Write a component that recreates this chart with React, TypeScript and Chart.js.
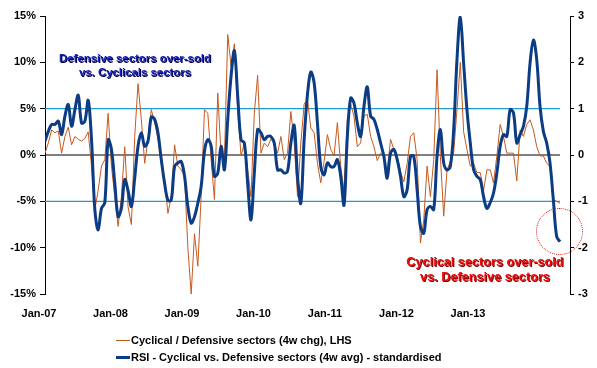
import React, { useEffect, useRef } from 'react';
import { Chart, registerables } from 'chart.js';

Chart.register(...registerables);

// ---- data ----
const START_YEAR = 2007;
const PERIOD_YEARS = 0.04647; // sampling period of the series (~17 days)
const X_MAX = 2014.343;
const YEAR_TICKS = [2007, 2008, 2009, 2010, 2011, 2012, 2013];

// Cyclical / Defensive sectors (4w chg), LHS, in %
const CYC_DEF_4W_CHG = [
  0.2, 1.3, 2.7, 2.4, 2.6, 0.2, 2.0, 3.0, 1.1, 2.0,
  1.7, 1.5, 1.8, 2.5, -1.2, -5.9, -3.8, -1.2, -0.5, 4.5,
  -1.2, -4.5, -7.7, -4.5, 0.9, -5.6, -7.5, 2.0, 7.7, 3.8,
  -0.9, 1.7, 4.9, 3.5, 1.7, -0.9, -2.7, -6.3, -4.5, 1.1,
  -1.2, -1.6, -2.3, -10, -15, -8.5, -12, -4.5, 4.9, 4.5,
  -0.5, -4.8, 6.7, -0.1, -0.5, 13, 9.6, 12, 4.9, -0.1,
  1.3, -1.6, -4.5, 4.5, 8.6, 0.2, 1.3, 0.9, 1.7, 1.3,
  0.2, 2.0, -0.5, 0.2, 4.7, 1.3, -4.5, 1.3, 5.5, 6.0,
  2.9, 2.4, -0.9, -3.0, -0.7, 2.2, 0.6, -0.1, 3.5, -1.2,
  -3.8, 3.8, 5.5, 4.2, 0.9, 1.3, 4.2, 4.4, 2.0, 0.9,
  -0.6, 0.2, -0.1, -1.9, 1.7, 0.6, -0.1, -1.8, -2.9, -0.9,
  2.0, 2.4, -0.5, -9.5, -7.0, -1.2, -4.5, -0.5, 9.2, -0.1,
  -6.6, -1.6, -0.7, 0.2, 4.9, 10.0, 2.5, 0.6, -1.2, -0.9,
  -1.9, -1.9, -3.8, -1.6, -1.6, -3.0, -0.1, 3.3, 2.0, 0.2,
  0.2, 0.2, -2.8, 2.7, 2.0, 3.3, 3.8, 2.7, 0.9, -0.1,
  -0.1, -0.9, -1.2, -4.8, -5.0, -5.2,
];

// RSI - Cyclical vs. Defensive sectors (4w avg) - standardised, RHS
const RSI_STD = [
  0.30, 0.51, 0.66, 0.66, 0.73, 0.44, 0.84, 1.09, 0.62, 0.98,
  1.29, 0.69, 0.73, 1.18, 0.33, -1.18, -1.62, -1.15, -1.03, 0.33,
  0.12, -0.61, -1.33, -1.15, -0.53, -0.77, -1.11, -0.50, 0.19, 0.48,
  0.19, 0.30, 0.82, 0.77, 0.48, -0.10, -0.61, -0.98, -0.97, -0.25,
  -0.17, -0.14, -0.46, -1.11, -1.47, -1.33, -1.04, -0.68, 0.08, 0.33,
  0.20, -0.46, -0.39, 0.19, -0.32, 0.77, 1.70, 2.25, 1.27, 0.33,
  0.26, -0.61, -1.40, -0.39, 0.55, 0.48, 0.33, 0.40, 0.40, 0.26,
  -0.32, -0.32, -0.39, -0.35, 0.26, 0.64, -0.46, -1.04, 0.33, 1.31,
  1.79, 1.56, 0.69, -0.25, -0.43, -0.17, -0.25, -0.25, -0.10, -0.46,
  -1.08, 0.40, 1.23, 1.12, 0.69, 0.40, 1.05, 1.47, 0.84, 0.77,
  0.55, 0.26, -0.03, -0.50, 0.04, 0.12, -0.10, -0.46, -0.90, -0.75,
  -0.03, -0.03, -0.75, -1.55, -1.69, -1.18, -1.11, -1.18, -0.03, 0.55,
  -0.17, -0.32, -0.25, 0.55, 2.06, 2.98, 1.98, 0.98, 0.26, -0.32,
  -0.46, -0.53, -0.90, -1.15, -1.03, -0.82, -0.39, 0.19, 0.44, 0.40,
  0.98, 0.91, 0.26, 0.44, 0.62, 1.05, 1.99, 2.48, 2.06, 1.05,
  0.51, 0.26, -0.17, -0.97, -1.76, -1.87,
];

const LEFT_RANGE = { min: -15, max: 15, step: 5 };
const RIGHT_RANGE = { min: -3, max: 3, step: 1 };
const BAND_LEVELS = [5, -5]; // % over-bought / over-sold bands (LHS)
const ZERO_LEVEL = 0;

const ORANGE = '#c65a1e';
const NAVY = '#0b3c84';
const LIGHT_BLUE = '#1d9ad6';
const FONT = '"Liberation Sans", Arial, sans-serif';

const xAt = (i: number) => START_YEAR + i * PERIOD_YEARS;

export default function App() {
  const canvasRef = useRef<HTMLCanvasElement | null>(null);

  useEffect(() => {
    const canvas = canvasRef.current;
    if (!canvas) return;
    const lastX = xAt(CYC_DEF_4W_CHG.length - 1);
    const levelLine = (lvl: number) => [
      { x: xAt(0), y: lvl },
      { x: lastX, y: lvl },
    ];
    const tickFont = { family: FONT, size: 11, weight: 'bold' as const };

    const chart = new Chart(canvas, {
      type: 'line',
      data: {
        datasets: [
          {
            label: 'RSI - Cyclical vs. Defensive sectors (4w avg) - standardised',
            data: RSI_STD.map((v, i) => ({ x: xAt(i), y: v })),
            yAxisID: 'y1',
            borderColor: NAVY,
            borderWidth: 3,
            pointRadius: 0,
            tension: 0.35,
            borderJoinStyle: 'round',
          },
          {
            label: 'Cyclical / Defensive sectors (4w chg), LHS',
            data: CYC_DEF_4W_CHG.map((v, i) => ({ x: xAt(i), y: v })),
            yAxisID: 'y',
            borderColor: ORANGE,
            borderWidth: 1,
            pointRadius: 0,
            tension: 0,
          },
          ...BAND_LEVELS.map((lvl) => ({
            label: 'band ' + lvl,
            data: levelLine(lvl),
            yAxisID: 'y',
            borderColor: LIGHT_BLUE,
            borderWidth: 1.2,
            pointRadius: 0,
          })),
          {
            label: 'zero',
            data: levelLine(ZERO_LEVEL),
            yAxisID: 'y',
            borderColor: '#000',
            borderWidth: 1.2,
            pointRadius: 0,
          },
        ],
      },
      options: {
        animation: false,
        responsive: false,
        devicePixelRatio: 1,
        parsing: false as any,
        layout: { padding: { top: 16, left: 0, right: 0, bottom: 0 } },
        plugins: { legend: { display: false }, tooltip: { enabled: false } },
        scales: {
          x: {
            type: 'linear',
            min: START_YEAR,
            max: X_MAX,
            afterBuildTicks: (s: any) => {
              s.ticks = YEAR_TICKS.map((v) => ({ value: v }));
            },
            afterFit: (s: any) => {
              s.height = 74;
            },
            grid: { display: false },
            border: { display: false },
            ticks: {
              autoSkip: false,
              maxRotation: 0,
              labelOffset: -6,
              padding: 5,
              color: '#000',
              font: tickFont,
              callback: (v: any) => 'Jan-' + String(v).slice(2),
            },
          },
          y: {
            position: 'left',
            min: LEFT_RANGE.min,
            max: LEFT_RANGE.max,
            afterFit: (s: any) => {
              s.width = 45;
            },
            grid: { display: true, drawOnChartArea: false, drawTicks: true, tickLength: 5, color: '#000' },
            border: { display: true, color: '#000', width: 1 },
            ticks: {
              stepSize: LEFT_RANGE.step,
              padding: 4,
              color: '#000',
              font: tickFont,
              callback: (v: any) => v + '%',
            },
          },
          y1: {
            position: 'right',
            min: RIGHT_RANGE.min,
            max: RIGHT_RANGE.max,
            afterFit: (s: any) => {
              s.width = 27;
            },
            grid: { display: true, drawOnChartArea: false, drawTicks: true, tickLength: 4, color: '#000' },
            border: { display: true, color: '#000', width: 1 },
            ticks: {
              stepSize: RIGHT_RANGE.step,
              padding: 4,
              color: '#000',
              font: tickFont,
              callback: (v: any) => String(v),
            },
          },
        },
      },
    } as any);
    return () => chart.destroy();
  }, []);

  const legendRow = (top: number, color: string, lw: number, text: string) => (
    <div
      style={{
        position: 'absolute',
        left: 116,
        top: top - 8,
        height: 16,
        display: 'flex',
        alignItems: 'center',
        whiteSpace: 'nowrap',
        font: `bold 11px ${FONT}`,
        color: '#000',
      }}
    >
      <span style={{ display: 'inline-block', width: 14, height: lw, background: color, marginRight: 1 }} />
      <span>{text}</span>
    </div>
  );

  return (
    <div
      style={{
        position: 'fixed',
        left: 0,
        top: 0,
        width: 597,
        height: 368,
        background: '#fff',
        overflow: 'hidden',
      }}
    >
      <canvas ref={canvasRef} width={597} height={368} style={{ position: 'absolute', left: 0, top: 0 }} />
      <div
        style={{
          position: 'absolute',
          left: 135,
          top: 65,
          transform: 'translate(-50%, -50%)',
          textAlign: 'center',
          whiteSpace: 'nowrap',
          font: `bold 11.4px ${FONT}`,
          lineHeight: '14px',
          color: '#1a22b0',
          textShadow: '1px 1px 0 #00004a',
        }}
      >
        Defensive sectors over-sold
        <br />
        vs. Cyclicals sectors
      </div>
      <div
        style={{
          position: 'absolute',
          left: 485,
          top: 269.5,
          transform: 'translate(-50%, -50%)',
          textAlign: 'center',
          whiteSpace: 'nowrap',
          font: `bold 12.7px ${FONT}`,
          lineHeight: '15px',
          color: '#e81010',
          textShadow: '1px 1px 0 #800000',
        }}
      >
        Cyclical sectors over-sold
        <br />
        vs. Defensive sectors
      </div>
      <div
        style={{
          position: 'absolute',
          left: 535.5,
          top: 207.5,
          width: 47,
          height: 47,
          boxSizing: 'border-box',
          border: '1px dotted #e01010',
          borderRadius: '50%',
        }}
      />
      {legendRow(340, ORANGE, 1, 'Cyclical / Defensive sectors (4w chg), LHS')}
      {legendRow(357, NAVY, 3, 'RSI - Cyclical vs. Defensive sectors (4w avg) - standardised')}
    </div>
  );
}
